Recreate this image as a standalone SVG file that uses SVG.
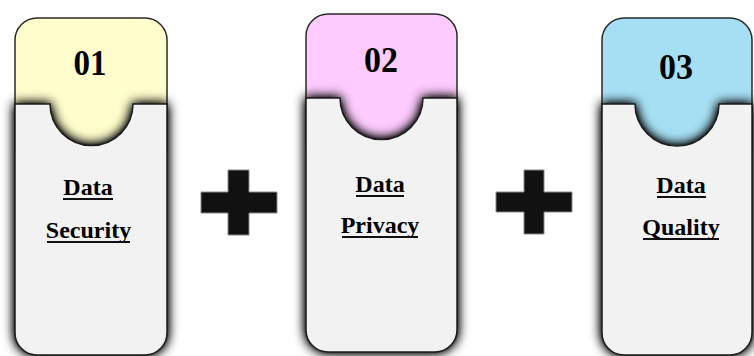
<svg xmlns="http://www.w3.org/2000/svg" width="754" height="356" viewBox="0 0 754 356">
  <style>
    .hdr { stroke: #2a2a2a; stroke-width: 1.5; }
    .panel { fill: #f2f2f2; stroke: #1a1a1a; stroke-width: 1.5; filter: url(#shadow); }
    .num { font-weight: bold; font-size: 36px; fill: #000; text-anchor: middle; }
    .lbl { font-weight: bold; font-size: 24px; fill: #000; text-anchor: middle; }
    .ul { stroke: #111; stroke-width: 2; }
    .plus { fill: #111; stroke: #888; stroke-width: 1; }
  </style>
  <defs>
    <filter id="shadow" x="-30%" y="-30%" width="160%" height="160%">
      <feGaussianBlur in="SourceAlpha" stdDeviation="6" result="b"/>
      <feComponentTransfer in="b" result="s">
        <feFuncA type="linear" slope="1.5"/>
      </feComponentTransfer>
      <feMerge>
        <feMergeNode in="s"/>
        <feMergeNode in="SourceGraphic"/>
      </feMerge>
    </filter>
  </defs>
  <rect width="754" height="356" fill="#ffffff"/>

  <g id="card1">
    <path class="hdr" fill="#fefdcb" d="M15,150 V40 A22,22 0 0 1 37,18 H145 A22,22 0 0 1 167,40 V150 Z"/>
    <path class="panel" d="M15,104 H50 A41.5,41.5 0 0 0 133,104 H167 V333 A22,22 0 0 1 145,355 H37 A22,22 0 0 1 15,333 Z"/>
    <text class="num" font-family="Liberation Serif, serif" x="90" y="75" textLength="33" lengthAdjust="spacingAndGlyphs">01</text>
    <text class="lbl" font-family="Liberation Serif, serif" x="88" y="195">Data</text>
    <line class="ul" x1="63" y1="199" x2="113" y2="199"/>
    <text class="lbl" font-family="Liberation Serif, serif" x="88.5" y="238">Security</text>
    <line class="ul" x1="47" y1="242" x2="130" y2="242"/>
  </g>

  <g id="card2">
    <path class="hdr" fill="#fdcbfd" d="M306,145 V36 A22,22 0 0 1 328,14 H435 A22,22 0 0 1 457,36 V145 Z"/>
    <path class="panel" d="M306,98 H340 A41.5,41.5 0 0 0 423,98 H457 V330 A22,22 0 0 1 435,352 H328 A22,22 0 0 1 306,330 Z"/>
    <text class="num" font-family="Liberation Serif, serif" x="381" y="72" textLength="34" lengthAdjust="spacingAndGlyphs">02</text>
    <text class="lbl" font-family="Liberation Serif, serif" x="380" y="192">Data</text>
    <line class="ul" x1="356" y1="196" x2="404" y2="196"/>
    <text class="lbl" font-family="Liberation Serif, serif" x="380" y="233">Privacy</text>
    <line class="ul" x1="342" y1="237" x2="418" y2="237"/>
  </g>

  <g id="card3">
    <path class="hdr" fill="#a6dff3" d="M602,150 V40 A22,22 0 0 1 624,18 H730 A22,22 0 0 1 752,40 V150 Z"/>
    <path class="panel" d="M602,104 H635 A42,42 0 0 0 719,104 H752 V333 A22,22 0 0 1 730,355 H624 A22,22 0 0 1 602,333 Z"/>
    <text class="num" font-family="Liberation Serif, serif" x="676" y="79" textLength="34" lengthAdjust="spacingAndGlyphs">03</text>
    <text class="lbl" font-family="Liberation Serif, serif" x="681" y="193">Data</text>
    <line class="ul" x1="657" y1="197" x2="706" y2="197"/>
    <text class="lbl" font-family="Liberation Serif, serif" x="681" y="235">Quality</text>
    <line class="ul" x1="643" y1="239" x2="719" y2="239"/>
  </g>

  <g id="connectors">
    <path id="plus1" class="plus" d="M228,170 H249 V192 H277 V213 H249 V235 H228 V213 H201 V192 H228 Z"/>
    <path id="plus2" class="plus" d="M524,170 H544 V192 H572 V212 H544 V234 H524 V212 H496 V192 H524 Z"/>
  </g>
</svg>
